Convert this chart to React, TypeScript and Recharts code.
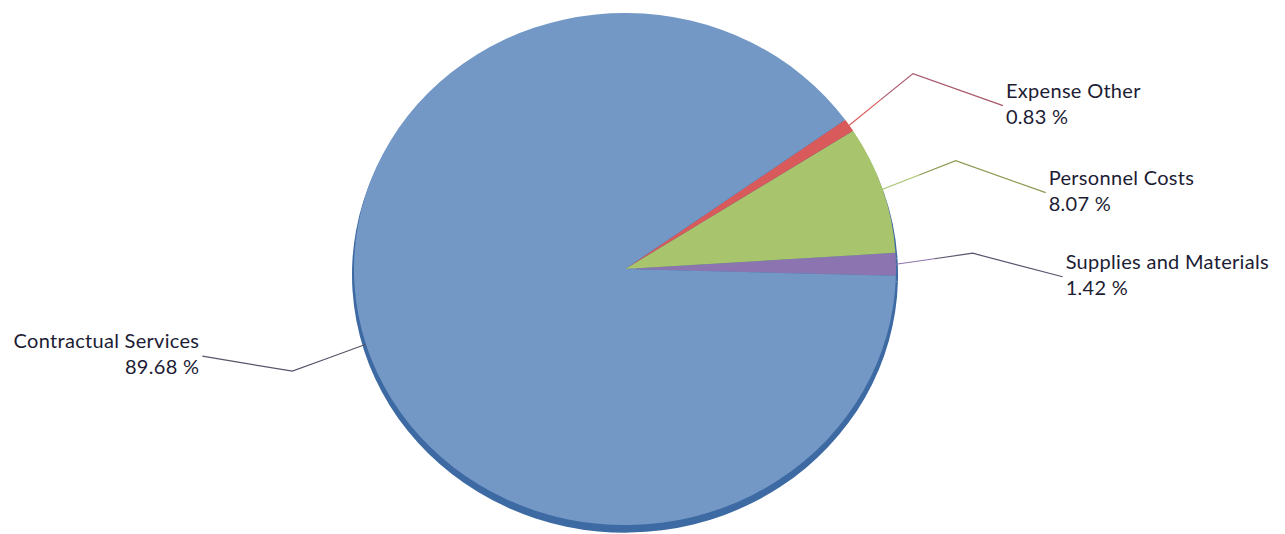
import React from "react";
import { PieChart, Pie, Cell } from "recharts";

const categories = ["Supplies and Materials", "Personnel Costs", "Expense Other", "Contractual Services"];
const shares = [1.42, 8.07, 0.83, 89.68];
const colors = ["#8C74B0", "#A8C46C", "#D95A5A", "#7398C6"];
const lineColors = ["#55556e", "#8a9a50", "#a8566a", "#55556a"];

const data = categories.map((name, i) => ({ name, value: shares[i] }));

const CX = 625;
const CY = 269;
const R = 271;
const SY = 0.945;
const RAD = Math.PI / 180;
const FONT = "Lato, 'Noto Sans', sans-serif";

const renderLabel = (props: any) => {
  const { midAngle, index, name, value } = props;
  const a = midAngle * RAD;
  const sx = CX + R * Math.cos(a);
  const sy = CY - R * SY * Math.sin(a);
  const right = Math.cos(a) >= 0;
  // keep the elbow of a near-horizontal label slightly above the axis
  const ea = right ? Math.max(midAngle, 2.6) * RAD : a;
  const ex = CX + 348 * Math.cos(ea);
  const ey = CY - 348 * Math.sin(ea);
  const fx = ex + (right ? 90 : -90);
  const fy = ey + (right ? 22 + 10 * Math.min(1, Math.abs(Math.sin(ea)) / 0.3) : -15);
  const tx = fx + (right ? 3 : -3);
  const anchor = right ? "start" : "end";
  const mx = sx + (ex - sx) * 0.5;
  const my = sy + (ey - sy) * 0.5;
  return (
    <g key={`lbl-${index}`}>
      <polyline points={`${sx},${sy} ${mx},${my}`} fill="none" stroke={right ? colors[index] : lineColors[index]} strokeWidth={1.2} />
      <polyline points={`${mx},${my} ${ex},${ey} ${fx},${fy}`} fill="none" stroke={lineColors[index]} strokeWidth={1.2} />
      <text x={tx} y={fy - 16} textAnchor={anchor} dominantBaseline="central" fill="#1c1c34" fontSize={20} letterSpacing={0.3} fontFamily={FONT}>
        {name}
      </text>
      <text x={tx} y={fy + 10} textAnchor={anchor} dominantBaseline="central" fill="#1c1c34" fontSize={20} letterSpacing={0.3} fontFamily={FONT}>
        {`${Number(value).toFixed(2)} %`}
      </text>
    </g>
  );
};

export default function App() {
  return (
    <div style={{ width: 1285, height: 534, background: "#fff" }}>
      <style>{`body{margin:0;background:#fff} .recharts-sector{transform-origin:${CX}px ${CY}px;transform:scaleY(${SY});}`}</style>
      <PieChart width={1285} height={534} margin={{ top: 0, right: 0, bottom: 0, left: 0 }}>
        <Pie
          data={data}
          dataKey="value"
          nameKey="name"
          cx={CX}
          cy={CY + 6}
          outerRadius={R + 2}
          startAngle={-1.5}
          endAngle={358.5}
          stroke="none"
          isAnimationActive={false}
        >
          {data.map((d, i) => (
            <Cell key={`s-${i}`} fill="#3E6AA3" />
          ))}
        </Pie>
        <Pie
          data={data}
          dataKey="value"
          nameKey="name"
          cx={CX}
          cy={CY}
          outerRadius={R}
          startAngle={-1.5}
          endAngle={358.5}
          stroke="none"
          isAnimationActive={false}
          label={renderLabel}
          labelLine={false}
        >
          {data.map((d, i) => (
            <Cell key={`c-${i}`} fill={colors[i]} />
          ))}
        </Pie>
      </PieChart>
    </div>
  );
}
